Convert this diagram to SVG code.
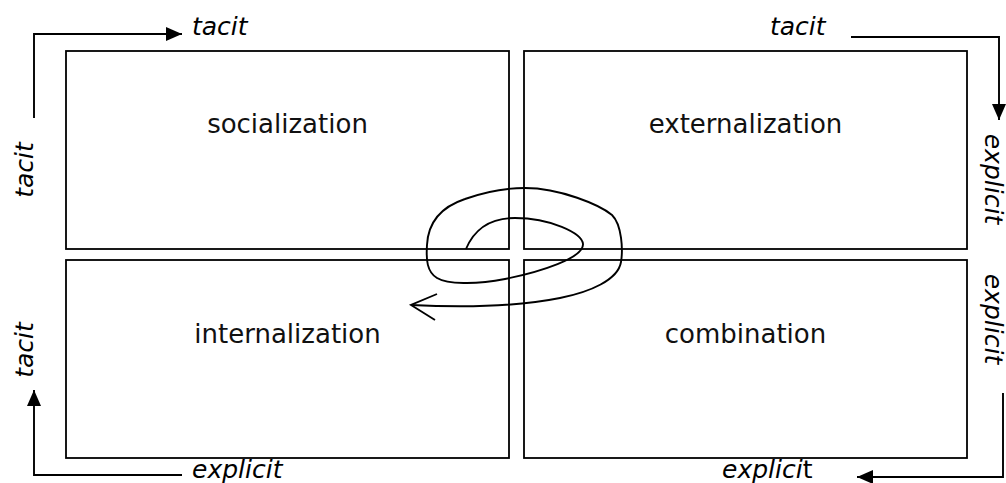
<svg xmlns="http://www.w3.org/2000/svg" width="1006" height="483" viewBox="0 0 1006 483">
<style>
.box{fill:none;stroke:#000;stroke-width:1.8}
.lbl{font-family:"DejaVu Sans",Verdana,sans-serif;font-size:26px;fill:#111;text-anchor:middle}
.ax{font-family:"DejaVu Sans",Verdana,sans-serif;font-size:25px;font-style:italic;fill:#000}
.ln{fill:none;stroke:#000;stroke-width:1.9}
</style>
<defs>
<marker id="ah" viewBox="0 0 16 14" refX="16" refY="7" markerWidth="16" markerHeight="14" markerUnits="userSpaceOnUse" orient="auto">
<path d="M0,0 L16,7 L0,14 z" fill="#000"/>
</marker>
</defs>
<rect width="1006" height="483" fill="#fff"/>
<g id="socialization"><rect class="box" x="66" y="51" width="443" height="198"/><text class="lbl" x="287.5" y="133">socialization</text></g>
<g id="externalization"><rect class="box" x="524" y="51" width="443" height="198"/><text class="lbl" x="745.5" y="133">externalization</text></g>
<g id="internalization"><rect class="box" x="66" y="260" width="443" height="198"/><text class="lbl" x="287.5" y="343">internalization</text></g>
<g id="combination"><rect class="box" x="524" y="260" width="443" height="198"/><text class="lbl" x="745.5" y="343">combination</text></g>
<g id="connectors">
<path class="ln" d="M34,118 L34,34 L182,34" marker-end="url(#ah)"/>
<path class="ln" d="M851,37 L999,37 L999,120" marker-end="url(#ah)"/>
<path class="ln" d="M182,475 L34,475 L34,390" marker-end="url(#ah)"/>
<path class="ln" d="M1003,393 L1003,477 L857,477" marker-end="url(#ah)"/>
<path class="ln" d="M466,249 C474,230 490,218 515,218 C550,218 582,233 583,244 C584,258 540,272 505,279 C475,285 447,284 437,278 C427,272 426,260 427,245 C428,225 438,208 465,199 C490,190 510,188 525,188 C560,188 600,205 612,215 C622,225 623,250 621,262 C618,280 590,292 560,298 C520,306 470,308 411,305"/>
<path class="ln" d="M437,294 L411,305 L435,320"/>
</g>
<g id="labels">
<text class="ax" x="192" y="35">tacit</text>
<text class="ax" x="770" y="35">tacit</text>
<text class="ax" transform="translate(33,170) rotate(-90)" text-anchor="middle">tacit</text>
<text class="ax" transform="translate(33,350) rotate(-90)" text-anchor="middle">tacit</text>
<text class="ax" transform="translate(985,179) rotate(90)" text-anchor="middle">explicit</text>
<text class="ax" transform="translate(985,319) rotate(90)" text-anchor="middle">explicit</text>
<text class="ax" x="192" y="478">explicit</text>
<text class="ax" x="722" y="478">explici<tspan font-style="normal">t</tspan></text>
</g>
</svg>
